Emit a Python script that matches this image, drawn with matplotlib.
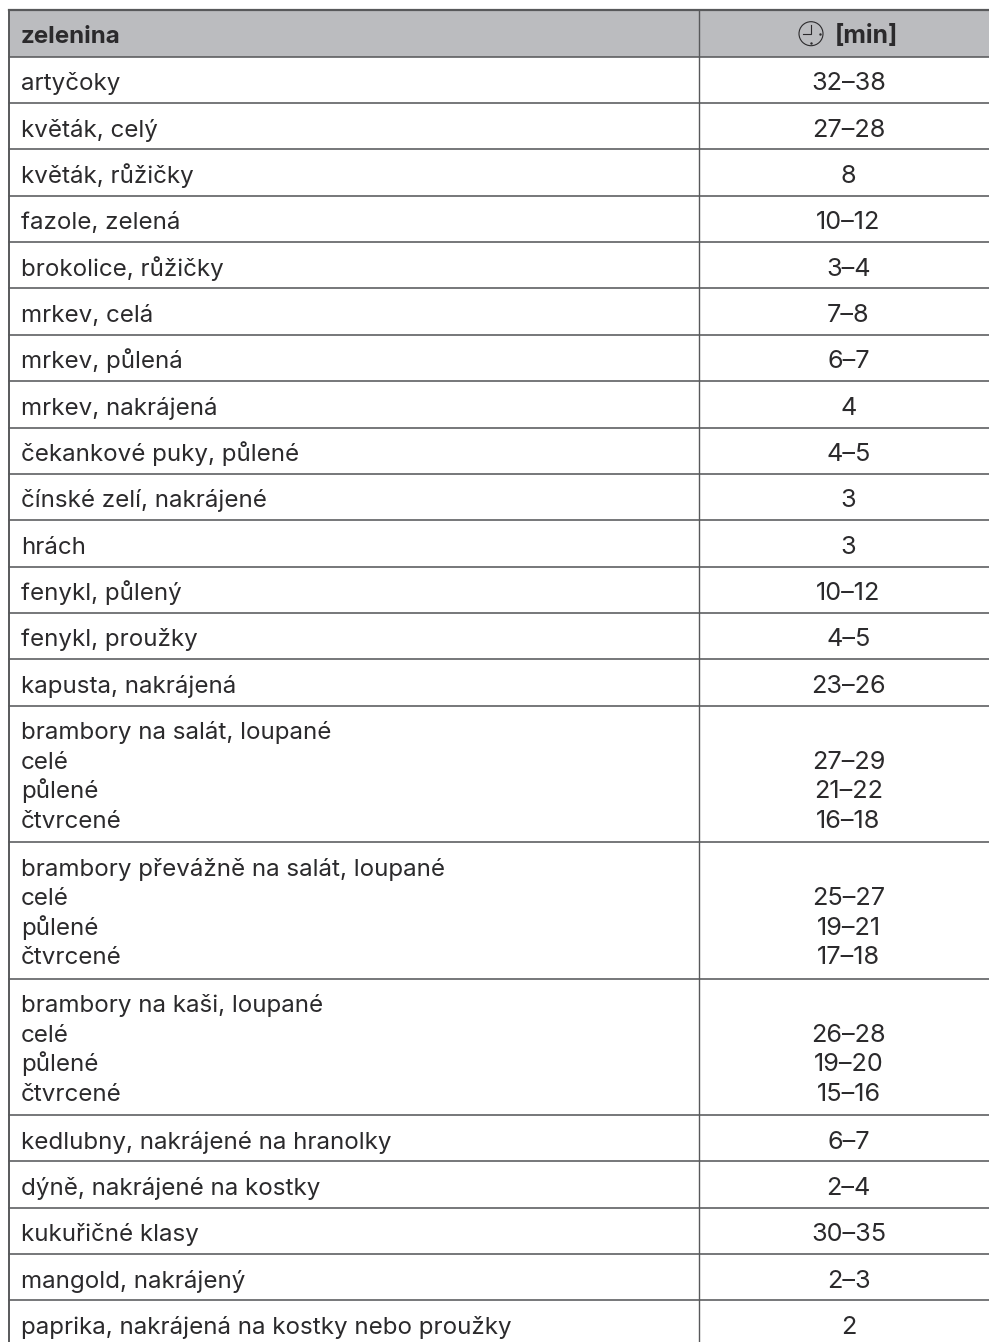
import matplotlib
matplotlib.use("Agg")
import matplotlib.pyplot as plt
from matplotlib.patches import Circle, Rectangle

# table contents, rows top to bottom
header = ["zelenina", "[min]"]
vegetables = [
    ["artyčoky"],
    ["květák, celý"],
    ["květák, růžičky"],
    ["fazole, zelená"],
    ["brokolice, růžičky"],
    ["mrkev, celá"],
    ["mrkev, půlená"],
    ["mrkev, nakrájená"],
    ["čekankové puky, půlené"],
    ["čínské zelí, nakrájené"],
    ["hrách"],
    ["fenykl, půlený"],
    ["fenykl, proužky"],
    ["kapusta, nakrájená"],
    ["brambory na salát, loupané", "celé", "půlené", "čtvrcené"],
    ["brambory převážně na salát, loupané", "celé", "půlené", "čtvrcené"],
    ["brambory na kaši, loupané", "celé", "půlené", "čtvrcené"],
    ["kedlubny, nakrájené na hranolky"],
    ["dýně, nakrájené na kostky"],
    ["kukuřičné klasy"],
    ["mangold, nakrájený"],
    ["paprika, nakrájená na kostky nebo proužky"],
]
minutes = [
    ["32–38"], ["27–28"], ["8"], ["10–12"], ["3–4"], ["7–8"], ["6–7"], ["4"],
    ["4–5"], ["3"], ["3"], ["10–12"], ["4–5"], ["23–26"],
    ["", "27–29", "21–22", "16–18"],
    ["", "25–27", "19–21", "17–18"],
    ["", "26–28", "19–20", "15–16"],
    ["6–7"], ["2–4"], ["30–35"], ["2–3"], ["2"],
]

W, H = 989, 1342
LEFT, MID, RIGHT = 8.5, 699, 989
TOP, HEAD_BOTTOM, BOTTOM = 9.5, 56.7, 1342
ROW_H = 46.35
TALL_H = 136.5
LINE_H = 29.6
BASE = 33.5
FONT = 17.4
NUM_FONT = 18.2
INK = "#2b2a2c"
RULE = "#58595b"

plt.rcParams["font.family"] = ["Inter", "DejaVu Sans"]

fig = plt.figure(figsize=(W / 100, H / 100), dpi=100)
ax = fig.add_axes([0, 0, 1, 1])
ax.set_xlim(0, W)
ax.set_ylim(H, 0)
ax.axis("off")

# header
ax.add_patch(Rectangle((LEFT, TOP), RIGHT - LEFT, HEAD_BOTTOM - TOP, fc="#bbbcbf", ec="none"))
ax.plot([LEFT, RIGHT], [TOP, TOP], color=RULE, lw=1.6)
ax.plot([LEFT, RIGHT], [HEAD_BOTTOM, HEAD_BOTTOM], color=RULE, lw=1.15)
ax.text(20.7, 43.2, header[0], fontsize=FONT, fontweight="bold", color=INK, va="baseline")
ax.text(835, 43.2, header[1], fontsize=FONT + 0.4, fontweight="bold", color=INK, va="baseline")

# clock icon
cx, cy = 811, 33.7
ax.add_patch(Circle((cx, cy), 12, fc="none", ec=INK, lw=0.8))
ax.plot([cx, cx, cx - 8], [cy - 8.5, cy, cy], color=INK, lw=0.8)
for dx, dy in [(0, 9), (9, 0)]:
    ax.plot(cx + dx, cy + dy, ".", color=INK, ms=1.5)

# body rows
y = HEAD_BOTTOM
for names, times in zip(vegetables, minutes):
    h = ROW_H if len(names) == 1 else TALL_H
    y_text = y + BASE
    for name, t in zip(names, times):
        ax.text(20.7, y_text, name, fontsize=FONT, color=INK, va="baseline")
        ax.text(848.5, y_text, t, fontsize=NUM_FONT, color=INK, va="baseline", ha="center")
        y_text += LINE_H
    y += h
    if y < BOTTOM - 20:
        ax.plot([LEFT, RIGHT], [y, y], color=RULE, lw=1.15)

# verticals
ax.plot([LEFT, LEFT], [TOP, BOTTOM], color=RULE, lw=1.4)
ax.plot([MID, MID], [TOP, BOTTOM], color=RULE, lw=1.0)

fig.savefig("out.png", dpi=100)
